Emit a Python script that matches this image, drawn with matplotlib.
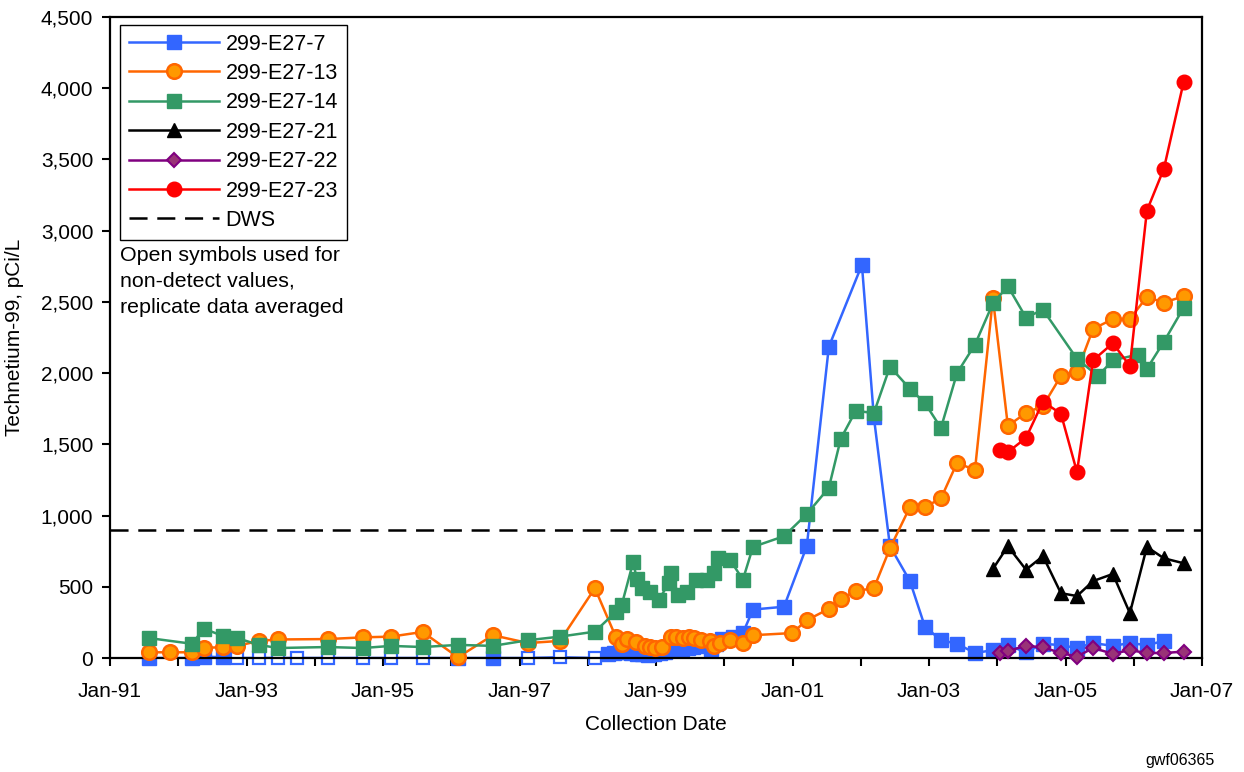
import matplotlib
matplotlib.use('Agg')
import matplotlib.pyplot as plt
import matplotlib.dates as mdates
import matplotlib.ticker as mticker
from matplotlib.lines import Line2D
import pandas as pd

plt.rcParams['font.family'] = ['Liberation Sans', 'DejaVu Sans']
plt.rcParams['lines.scale_dashes'] = False

# ---------------- data ----------------
e7_dates = ["1991-07-28", "1992-03-14", "1992-05-18", "1992-08-28", "1992-11-11", "1993-03-08",
            "1993-06-18", "1993-09-27", "1994-03-12", "1994-09-16", "1995-02-12", "1995-08-01",
            "1996-02-06", "1996-08-11", "1997-02-15", "1997-08-05", "1998-02-08",
            "1998-04-20", "1998-05-20", "1998-06-20", "1998-07-20", "1998-08-20", "1998-09-20",
            "1998-10-20", "1998-11-20", "1998-12-20", "1999-01-20", "1999-02-20", "1999-03-20",
            "1999-04-20", "1999-05-20", "1999-06-20", "1999-07-20", "1999-08-20", "1999-09-20",
            "1999-10-20", "1999-11-20", "1999-12-20", "2000-02-15", "2000-04-10", "2000-06-03",
            "2000-11-16", "2001-03-18", "2001-07-14", "2002-01-07", "2002-03-12", "2002-06-06",
            "2002-09-21", "2002-12-10", "2003-03-06", "2003-05-31", "2003-09-04", "2003-12-09",
            "2004-02-27", "2004-06-03", "2004-09-02", "2004-12-07", "2005-03-03", "2005-05-28",
            "2005-09-11", "2005-12-11", "2006-03-12", "2006-06-11"]
e7_vals = [0, 0, 10, 5, 0, 0, 0, 0, 0, 0, 0, 0, 0, 0, 0, 5, 0,
           25, 35, 40, 45, 35, 30, 25, 20, 25, 35, 45, 55, 60, 65, 70, 80, 85, 90,
           60, 100, 130, 150, 175, 340, 360, 785, 2185, 2760, 1690, 785, 540, 220,
           125, 100, 35, 55, 90, 40, 100, 90, 70, 105, 85, 105, 90, 120]
e7_detect = [1, 1, 1, 1, 0, 0, 0, 0, 0, 0, 0, 0, 1, 1, 0, 0, 0] + [1] * 46

e13_dates = ["1991-07-28", "1991-11-18", "1992-03-14", "1992-05-18", "1992-08-28", "1992-11-11",
             "1993-03-08", "1993-06-18", "1994-03-12", "1994-09-16", "1995-02-12", "1995-08-01",
             "1996-02-06", "1996-08-11", "1997-02-15", "1997-08-05", "1998-02-08",
             "1998-06-01", "1998-07-01", "1998-08-01", "1998-09-15", "1998-11-01", "1998-12-01",
             "1998-12-25", "1999-02-01", "1999-03-20", "1999-04-20", "1999-05-25", "1999-06-25",
             "1999-07-25", "1999-09-01", "1999-10-15", "1999-11-10", "1999-12-10", "2000-02-01",
             "2000-04-10", "2000-06-03", "2000-12-29", "2001-03-18", "2001-07-14", "2001-09-16",
             "2001-12-05", "2002-03-12", "2002-06-06", "2002-09-21", "2002-12-10", "2003-03-06",
             "2003-05-31", "2003-09-04", "2003-12-09", "2004-02-27", "2004-06-03", "2004-09-02",
             "2004-12-07", "2005-03-03", "2005-05-28", "2005-09-11", "2005-12-11", "2006-03-12",
             "2006-06-11", "2006-09-25"]
e13_vals = [40, 40, 40, 70, 77, 85, 120, 130, 133, 145, 150, 183, 5, 160, 105, 120, 490,
            145, 100, 130, 115, 85, 78, 70, 75, 148, 150, 140, 145, 140, 125, 120, 85, 105, 125,
            105, 160, 175, 265, 345, 415, 470, 490, 770, 1060, 1060, 1120, 1370, 1320, 2525,
            1630, 1720, 1770, 1980, 2010, 2310, 2380, 2380, 2535, 2495, 2540]

e14_dates = ["1991-07-28", "1992-03-14", "1992-05-18", "1992-08-28", "1992-11-11", "1993-03-08",
             "1993-06-18", "1994-03-12", "1994-09-16", "1995-02-12", "1995-08-01", "1996-02-06",
             "1996-08-11", "1997-02-15", "1997-08-05", "1998-02-08",
             "1998-06-01", "1998-07-01", "1998-09-01", "1998-09-20", "1998-10-20", "1998-12-01",
             "1999-01-15", "1999-03-10", "1999-03-20", "1999-05-01", "1999-06-15", "1999-08-01",
             "1999-10-01", "1999-11-05", "1999-12-01", "2000-02-01", "2000-04-10", "2000-06-03",
             "2000-11-16", "2001-03-18", "2001-07-14", "2001-09-16", "2001-12-05", "2002-03-12",
             "2002-06-06", "2002-09-21", "2002-12-10", "2003-03-06", "2003-05-31", "2003-09-04",
             "2003-12-09", "2004-02-27", "2004-06-03", "2004-09-02", "2005-03-03", "2005-06-23",
             "2005-09-11", "2006-01-23", "2006-03-12", "2006-06-11", "2006-09-25"]
e14_vals = [140, 100, 205, 155, 140, 92, 70, 77, 70, 85, 77, 92, 85, 125, 150, 185,
            325, 370, 675, 555, 490, 465, 405, 525, 595, 445, 465, 550, 550, 595, 705, 690,
            550, 780, 855, 1010, 1195, 1540, 1735, 1720, 2045, 1890, 1790, 1615, 2000, 2200,
            2490, 2610, 2390, 2445, 2100, 1980, 2090, 2130, 2030, 2220, 2460]

e21_dates = ["2003-12-09", "2004-02-27", "2004-06-03", "2004-09-02", "2004-12-07", "2005-03-03",
             "2005-05-28", "2005-09-11", "2005-12-11", "2006-03-12", "2006-06-11", "2006-09-25"]
e21_vals = [625, 785, 620, 715, 455, 435, 540, 590, 315, 780, 700, 665]

e22_dates = ["2004-01-15", "2004-02-27", "2004-06-03", "2004-09-02", "2004-12-07", "2005-03-03",
             "2005-05-28", "2005-09-11", "2005-12-11", "2006-03-12", "2006-06-11", "2006-09-25"]
e22_vals = [35, 50, 85, 75, 35, 10, 70, 30, 55, 35, 35, 45]

e23_dates = ["2004-01-15", "2004-02-27", "2004-06-03", "2004-09-02", "2004-12-07", "2005-03-03",
             "2005-05-28", "2005-09-11", "2005-12-11", "2006-03-12", "2006-06-11", "2006-09-25"]
e23_vals = [1460, 1445, 1545, 1800, 1715, 1305, 2090, 2210, 2050, 3140, 3435, 4045]

dws_value = 900
x_start, x_end = "1991-01-01", "2007-01-01"
label_years = list(range(1991, 2008, 2))
minor_years = list(range(1991, 2008))

# ---------------- figure ----------------
fig = plt.figure(figsize=(12.44, 7.72), dpi=100)
ax = fig.add_axes([110 / 1244, 1 - 658 / 772, (1202 - 110) / 1244, (658 - 17) / 772])

lw = 1.8
blue = '#3366FF'

d7 = pd.to_datetime(e7_dates)
ax.plot(d7, e7_vals, color=blue, lw=lw, zorder=2)
det_x = [d for d, f in zip(d7, e7_detect) if f]
det_y = [v for v, f in zip(e7_vals, e7_detect) if f]
nd_x = [d for d, f in zip(d7, e7_detect) if not f]
nd_y = [v for v, f in zip(e7_vals, e7_detect) if not f]
ax.plot(det_x, det_y, ls='none', marker='s', ms=9.5, mfc=blue, mec=blue, zorder=2.1, clip_on=False)
ax.plot(nd_x, nd_y, ls='none', marker='s', ms=9, mfc='white', mec=blue, mew=1.6, zorder=2.1, clip_on=False)

ax.plot(pd.to_datetime(e13_dates), e13_vals, color='#FF6600', lw=lw, marker='o', ms=10.5,
        mfc='#FF9900', mec='#FF6600', mew=1.8, zorder=3, clip_on=False)
ax.plot(pd.to_datetime(e14_dates), e14_vals, color='#339966', lw=lw, marker='s', ms=9.5,
        mfc='#339966', mec='#339966', zorder=4, clip_on=False)
ax.plot(pd.to_datetime(e21_dates), e21_vals, color='black', lw=lw, marker='^', ms=10.5,
        mfc='black', mec='black', zorder=5)
ax.plot(pd.to_datetime(e22_dates), e22_vals, color='#800080', lw=lw, marker='D', ms=7.5,
        mfc='#993377', mec='#800080', mew=1.5, zorder=6, clip_on=False)
ax.plot(pd.to_datetime(e23_dates), e23_vals, color='#FF0000', lw=lw, marker='o', ms=10.5,
        mfc='#FF0000', mec='#FF0000', zorder=7)
ax.axhline(dws_value, color='black', lw=1.8, dashes=(13, 7), zorder=1.5)

ax.set_xlim(pd.Timestamp(x_start), pd.Timestamp(x_end))
ax.set_ylim(0, 4500)
ax.xaxis.set_major_locator(mticker.FixedLocator(
    mdates.date2num([pd.Timestamp(f"{y}-01-01") for y in label_years])))
ax.xaxis.set_major_formatter(mdates.DateFormatter('%b-%y'))
ax.xaxis.set_minor_locator(mticker.FixedLocator(
    mdates.date2num([pd.Timestamp(f"{y}-01-01") for y in minor_years])))
ax.yaxis.set_major_locator(mticker.MultipleLocator(500))
ax.yaxis.set_major_formatter(mticker.FuncFormatter(lambda v, p: f"{int(v):,}"))

ax.tick_params(axis='both', which='both', direction='out', length=6, width=1.5,
               labelsize=15, color='black')
ax.tick_params(axis='x', which='major', pad=11)
ax.tick_params(axis='y', which='major', pad=6)
for s in ax.spines.values():
    s.set_linewidth(1.6)
    s.set_color('black')

ax.set_xlabel('Collection Date', fontsize=15, labelpad=10)
ax.set_ylabel('Technetium-99, pCi/L', fontsize=15, labelpad=12)

handles = [
    Line2D([], [], color=blue, lw=lw, marker='s', ms=9.5, mfc=blue, mec=blue),
    Line2D([], [], color='#FF6600', lw=lw, marker='o', ms=10.5, mfc='#FF9900', mec='#FF6600', mew=1.8),
    Line2D([], [], color='#339966', lw=lw, marker='s', ms=9.5, mfc='#339966', mec='#339966'),
    Line2D([], [], color='black', lw=lw, marker='^', ms=10.5, mfc='black', mec='black'),
    Line2D([], [], color='#800080', lw=lw, marker='D', ms=7.5, mfc='#993377', mec='#800080', mew=1.5),
    Line2D([], [], color='#FF0000', lw=lw, marker='o', ms=10.5, mfc='#FF0000', mec='#FF0000'),
    Line2D([], [], color='black', lw=1.8, dashes=(13, 7)),
]
labels = ['299-E27-7', '299-E27-13', '299-E27-14', '299-E27-21', '299-E27-22', '299-E27-23', 'DWS']
leg = ax.legend(handles, labels, loc='upper left', bbox_to_anchor=((120 - 110) / 1092, 1 - (25 - 17) / 641),
                fontsize=15.5, frameon=True, fancybox=False, edgecolor='black', framealpha=1,
                handlelength=4.2, handletextpad=0.3, labelspacing=0.39, borderpad=0.4,
                borderaxespad=0)
leg.get_frame().set_linewidth(1.0)

ax.text((120 - 110) / 1092, 1 - (246 - 17) / 641,
        'Open symbols used for\nnon-detect values,\nreplicate data averaged',
        transform=ax.transAxes, fontsize=15.4, va='top', ha='left', linespacing=1.45)

fig.text(1180 / 1244, 1 - 760 / 772, 'gwf06365', fontsize=11.5, ha='center', va='center')

fig.savefig('out.png', dpi=100)
